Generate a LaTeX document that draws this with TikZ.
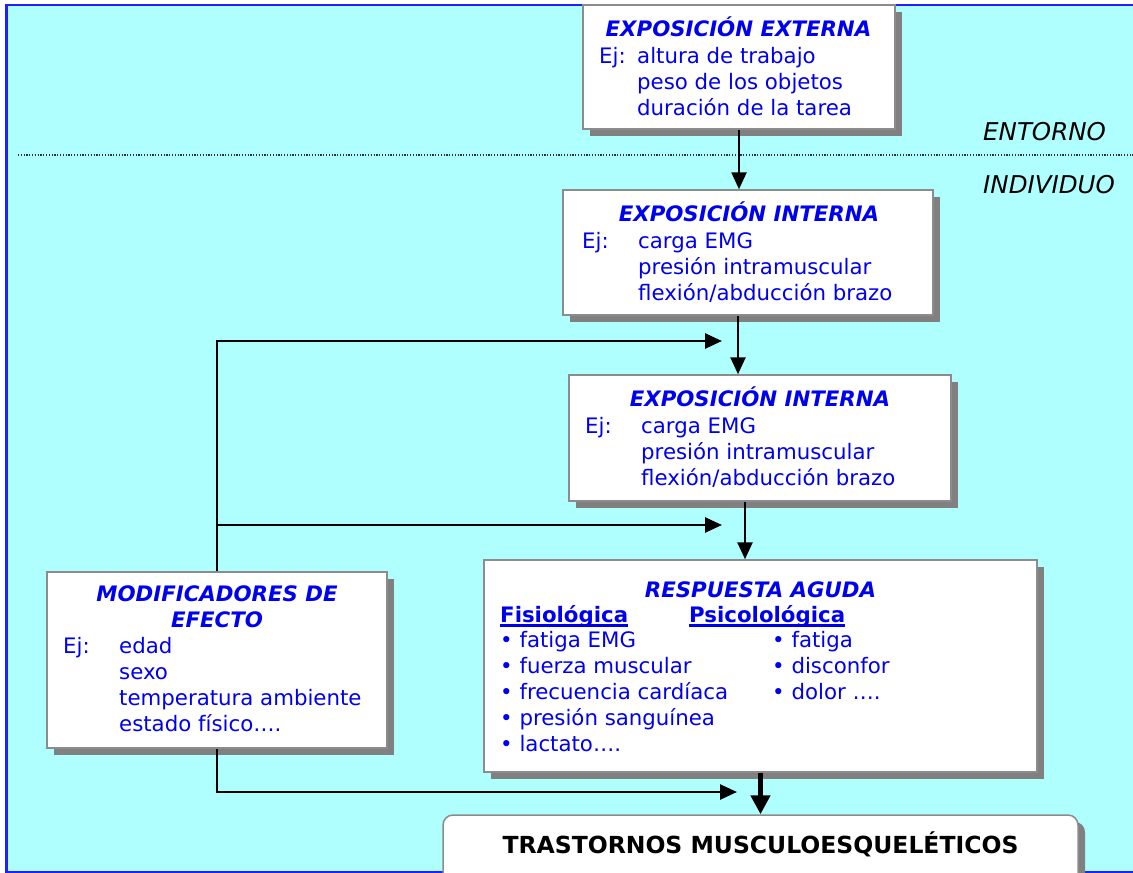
\documentclass[tikz,border=0pt]{standalone}
\usepackage{fontspec}
\setmainfont{DejaVu Sans}
\usetikzlibrary{positioning,shadows,arrows.meta}
\definecolor{fondo}{HTML}{B0FFFF}
\definecolor{marco}{HTML}{2020FF}
\definecolor{texto}{HTML}{0000F0}
\definecolor{sombra}{HTML}{808080}
\definecolor{borde}{HTML}{8C8C8C}
\newcommand{\subrayado}[1]{\setbox0\hbox{#1}\rlap{\rule[-4.5pt]{\wd0}{2.5pt}}\box0}

\begin{document}
\begin{tikzpicture}[x=1pt,y=-1pt,
    caja/.style={
% The shape:
rectangle,
% The border:
fill=white, draw=borde, line width=1.5pt,
% The shadow:
drop shadow={shadow xshift=7pt,shadow yshift=-7pt,fill=sombra,opacity=1},
% The size:
inner sep=0pt,
},
    titulo/.style={
% The text:
anchor=base, inner sep=0pt, text=texto,
font=\fontsize{21.3}{26}\selectfont\bfseries\itshape,
},
    cuerpo/.style={
% The text:
anchor=base west, inner sep=0pt, text=texto,
font=\fontsize{21.3}{26}\selectfont,
},
    zona/.style={
% The text:
anchor=base west, inner sep=0pt,
font=\fontsize{24.5}{28}\selectfont\itshape,
},
    flecha/.style={
% The line:
line width=2.6pt, -{Triangle[length=17pt,width=15pt]},
},
]
  \useasboundingbox (0,0) rectangle (1133,873);
  \clip (0,0) rectangle (1133,873);
  \draw[fill=fondo, draw=marco, line width=2.4pt] (6.5,5) rectangle (1150,872);
  \draw[line width=1.2pt, gray!40!black, dash pattern=on 1.2pt off 1.6pt]
    (18,155) -- (1133,155);

  \node[zona] (entorno) at (983,140) {ENTORNO};
  \node[zona] (individuo) at (983,193) {INDIVIDUO};

  % boxes
  \node[caja, minimum width=312pt, minimum height=124pt] (ext) at (739,67) {};
  \node[caja, minimum width=370pt, minimum height=125pt] (intA) at (748,252.5) {};
  \node[caja, minimum width=382pt, minimum height=126pt] (intB) at (760,438) {};
  \node[caja, minimum width=340pt, minimum height=176pt] (mod) at (217,660) {};
  \node[caja, minimum width=553pt, minimum height=212pt] (resp) at (760.5,666) {};
  \node[caja, rounded corners=10pt, minimum width=635pt, minimum height=80pt]
    (tme) at (760.5,855) {};

  % texts
  \node[titulo] (ext-t) at (738.5,36) {EXPOSICIÓN EXTERNA};
  \node[cuerpo] (ext-b) at (599,63) {\begin{tabular}[t]{@{}p{38pt}@{}l@{}}
    Ej: & altura de trabajo\\ & peso de los objetos\\ & duración de la tarea
  \end{tabular}};
  \node[titulo] (intA-t) at (749,221) {EXPOSICIÓN INTERNA};
  \node[cuerpo] (intA-b) at (582,248) {\begin{tabular}[t]{@{}p{56pt}@{}l@{}}
    Ej: & carga EMG\\ & presión intramuscular\\ & flexión/abducción brazo
  \end{tabular}};
  \node[titulo] (intB-t) at (760,406) {EXPOSICIÓN INTERNA};
  \node[cuerpo] (intB-b) at (585,433) {\begin{tabular}[t]{@{}p{56pt}@{}l@{}}
    Ej: & carga EMG\\ & presión intramuscular\\ & flexión/abducción brazo
  \end{tabular}};
  \node[titulo, align=center] (mod-t) at (217,627) {MODIFICADORES DE\\EFECTO};
  \node[cuerpo] (mod-b) at (63,653) {\begin{tabular}[t]{@{}p{56pt}@{}l@{}}
    Ej: & edad\\ & sexo\\ & temperatura ambiente\\ & estado físico….
  \end{tabular}};
  \node[titulo] (resp-t) at (760.5,597) {RESPUESTA AGUDA};
  \node[cuerpo, font=\fontsize{21.3}{26}\selectfont\bfseries] (fis) at (500,622)
    {\subrayado{Fisiológica}};
  \node[cuerpo, font=\fontsize{21.3}{26}\selectfont\bfseries] (psi) at (689,622)
    {\subrayado{Psicolológica}};
  \node[cuerpo] (fis-l) at (500,647) {\begin{tabular}[t]{@{}l@{}}
    • fatiga EMG\\ • fuerza muscular\\ • frecuencia cardíaca\\
    • presión sanguínea\\ • lactato….
  \end{tabular}};
  \node[cuerpo] (psi-l) at (772,647) {\begin{tabular}[t]{@{}l@{}}
    • fatiga\\ • disconfor\\ • dolor ….
  \end{tabular}};
  \node[anchor=base, inner sep=0pt, font=\fontsize{23.5}{28}\selectfont\bfseries]
    (tme-t) at (760.5,853) {TRASTORNOS MUSCULOESQUELÉTICOS};

  % arrow ends
  \coordinate (finA) at (722,341);
  \coordinate (finB) at (722,525);
  \coordinate (finC) at (737,792);

  \draw[flecha] (ext.south) -- (ext.south |- intA.north);
  \draw[flecha] ([xshift=-10pt]intA.south) -- ([xshift=-10pt]intA.south |- intB.north);
  \draw[flecha] ([xshift=-15pt]intB.south) -- ([xshift=-15pt]intB.south |- resp.north);
  \draw[line width=5.5pt, -{Triangle[length=19pt,width=19pt]}] (resp.south) -- (tme.north);
  \draw[flecha] (mod.north) |- (finA);
  \draw[flecha] (mod.north) |- (finB);
  \draw[flecha] (mod.south) |- (finC);

\end{tikzpicture}
\end{document}
